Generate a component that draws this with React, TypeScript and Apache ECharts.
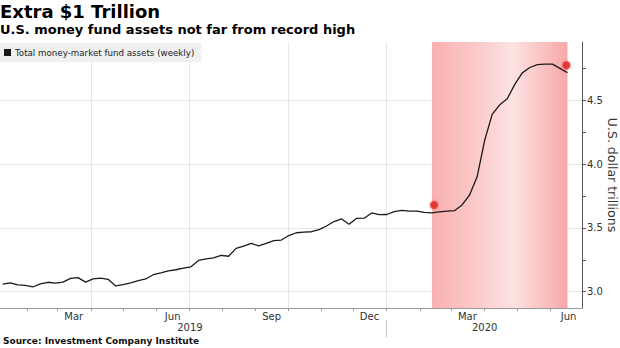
import React, { useEffect, useRef } from 'react';
import * as echarts from 'echarts';

// Weekly dates (ICI, Wednesdays)
const dates: string[] = [
  '2019-01-09', '2019-01-16', '2019-01-23', '2019-01-30',
  '2019-02-06', '2019-02-13', '2019-02-20', '2019-02-27',
  '2019-03-06', '2019-03-13', '2019-03-20', '2019-03-27',
  '2019-04-03', '2019-04-10', '2019-04-17', '2019-04-24',
  '2019-05-01', '2019-05-08', '2019-05-15', '2019-05-22', '2019-05-29',
  '2019-06-05', '2019-06-12', '2019-06-19', '2019-06-26',
  '2019-07-03', '2019-07-10', '2019-07-17', '2019-07-24', '2019-07-31',
  '2019-08-07', '2019-08-14', '2019-08-21', '2019-08-28',
  '2019-09-04', '2019-09-11', '2019-09-18', '2019-09-25',
  '2019-10-02', '2019-10-09', '2019-10-16', '2019-10-23', '2019-10-30',
  '2019-11-06', '2019-11-13', '2019-11-20', '2019-11-27',
  '2019-12-04', '2019-12-11', '2019-12-18', '2019-12-25',
  '2020-01-01', '2020-01-08', '2020-01-15', '2020-01-22', '2020-01-29',
  '2020-02-05', '2020-02-12', '2020-02-19', '2020-02-26',
  '2020-03-04', '2020-03-11', '2020-03-18', '2020-03-25',
  '2020-04-01', '2020-04-08', '2020-04-15', '2020-04-22', '2020-04-29',
  '2020-05-06', '2020-05-13', '2020-05-20', '2020-05-27',
  '2020-06-03', '2020-06-10', '2020-06-17',
];

// Total money-market fund assets, US$ trillions
const assets: number[] = [
  3.06, 3.07, 3.054, 3.05,
  3.037, 3.062, 3.074, 3.068,
  3.075, 3.105, 3.11, 3.075,
  3.1, 3.106, 3.097, 3.045,
  3.055, 3.07, 3.086, 3.1, 3.133,
  3.148, 3.164, 3.172, 3.185,
  3.195, 3.245, 3.257, 3.265, 3.285,
  3.278, 3.34, 3.358, 3.378,
  3.36, 3.378, 3.4, 3.405,
  3.44, 3.462, 3.467, 3.47, 3.486,
  3.515, 3.55, 3.57, 3.528,
  3.575, 3.576, 3.617, 3.604,
  3.605, 3.628, 3.638, 3.632, 3.632,
  3.622, 3.618, 3.626, 3.632,
  3.635, 3.68, 3.758, 3.9,
  4.185, 4.39, 4.465, 4.512, 4.625,
  4.715, 4.757, 4.78, 4.784,
  4.784, 4.75, 4.716,
];

const seriesName = 'Total money-market fund assets (weekly)';

const axisStart = '2019-01-06T12:00:00Z';
const axisEnd = '2020-06-30T12:00:00Z';

const monthTickDates: string[] = [
  '2019-02-01', '2019-03-01', '2019-04-01', '2019-05-01', '2019-06-01', '2019-07-01',
  '2019-08-01', '2019-09-01', '2019-10-01', '2019-11-01', '2019-12-01', '2020-01-01',
  '2020-02-01', '2020-03-01', '2020-04-01', '2020-05-01', '2020-06-01',
];
const gridLineDates: string[] = ['2019-04-01', '2019-07-01', '2019-10-01', '2020-01-01', '2020-04-01'];
const monthLabelDates: string[] = ['2019-03-16', '2019-06-16', '2019-09-16', '2019-12-16', '2020-03-16', '2020-06-18'];
const monthLabels: string[] = ['Mar', 'Jun', 'Sep', 'Dec', 'Mar', 'Jun'];
const yearLabelDates: string[] = ['2019-07-02', '2020-04-01'];
const yearLabels: string[] = ['2019', '2020'];
const yearSeparatorDates: string[] = ['2020-01-01'];

const yMin = 2.8723;
const yMax = 4.957;
const yTickValues: number[] = [3, 3.25, 3.5, 3.75, 4, 4.25, 4.5, 4.75];
const yLabelValues: number[] = [3, 3.5, 4, 4.5];
const yLabels: string[] = ['3.0', '3.5', '4.0', '4.5'];

const shadeRange: string[] = ['2020-02-12', '2020-06-17'];
const markerDates: string[] = ['2020-02-14', '2020-06-16'];
const markerValues: number[] = [3.68, 4.775];

const ts = (s: string) => Date.parse(s.length === 10 ? s + 'T00:00:00Z' : s);

const FONT = 'DejaVu Sans';

export default function App() {
  const ref = useRef<HTMLDivElement>(null);

  useEffect(() => {
    if (!ref.current) return;
    const chart = echarts.init(ref.current, undefined, { renderer: 'svg' });

    const monthLabelTs = monthLabelDates.map(ts);
    const yearLabelTs = yearLabelDates.map(ts);

    const baseX = {
      type: 'value' as const,
      gridIndex: 0,
      position: 'bottom' as const,
      min: ts(axisStart),
      max: ts(axisEnd),
      axisLine: { show: false },
      axisTick: { show: false },
      axisLabel: { show: false },
      splitLine: { show: false },
    };

    const option: any = {
      animation: false,
      backgroundColor: '#ffffff',
      title: [
        {
          text: 'Extra $1 Trillion',
          left: 0,
          top: 2,
          padding: 0,
          textStyle: { fontFamily: FONT, fontWeight: 'bold', fontSize: 18, color: '#000' },
        },
        {
          text: 'U.S. money fund assets not far from record high',
          left: 0,
          top: 23,
          padding: 0,
          textStyle: { fontFamily: FONT, fontWeight: 'bold', fontSize: 13, color: '#000' },
        },
        {
          text: 'Source: Investment Company Institute',
          left: 3,
          top: 336,
          padding: 0,
          textStyle: { fontFamily: FONT, fontWeight: 'bold', fontSize: 9, color: '#111' },
        },
      ],
      legend: {
        data: [seriesName],
        left: 0,
        top: 43,
        padding: [5, 7, 5, 4],
        backgroundColor: '#f0f0f0',
        icon: 'rect',
        itemWidth: 7,
        itemHeight: 7,
        itemGap: 5,
        selectedMode: false,
        textStyle: { fontFamily: FONT, fontSize: 8.7, color: '#222', padding: [0, 0, 0, -1] },
      },
      grid: {
        left: 0,
        right: 38,
        top: 42,
        bottom: 40,
        containLabel: false,
        outerBoundsMode: 'none',
      },
      xAxis: [
        {
          ...baseX,
          axisLine: { show: true, lineStyle: { color: '#9a9a9a', width: 1 } },
          axisTick: {
            show: true,
            customValues: monthTickDates.map(ts),
            length: 3,
            lineStyle: { color: '#9a9a9a' },
          },
        },
        {
          ...baseX,
          axisTick: { show: false, customValues: gridLineDates.map(ts) },
          splitLine: { show: true, lineStyle: { color: '#e6e6e6', width: 1 } },
        },
        {
          ...baseX,
          axisLabel: {
            show: true,
            customValues: monthLabelTs,
            margin: 3,
            fontFamily: FONT,
            fontSize: 10,
            color: '#333',
            formatter: (v: number) => {
              const i = monthLabelTs.findIndex((t) => Math.abs(t - v) < 1000);
              return i >= 0 ? monthLabels[i] : '';
            },
          },
        },
        {
          ...baseX,
          offset: 12,
          axisTick: {
            show: true,
            customValues: yearSeparatorDates.map(ts),
            length: 17,
            lineStyle: { color: '#c4c4c4' },
          },
          axisLabel: {
            show: true,
            customValues: yearLabelTs,
            margin: 2,
            fontFamily: FONT,
            fontSize: 10,
            color: '#333',
            formatter: (v: number) => {
              const i = yearLabelTs.findIndex((t) => Math.abs(t - v) < 1000);
              return i >= 0 ? yearLabels[i] : '';
            },
          },
        },
      ],
      yAxis: [
        {
          type: 'value',
          gridIndex: 0,
          position: 'right',
          min: yMin,
          max: yMax,
          axisLine: { show: true, lineStyle: { color: '#555', width: 1 } },
          axisTick: { show: true, customValues: yTickValues, length: 4, lineStyle: { color: '#555' } },
          axisLabel: {
            show: true,
            customValues: yLabelValues,
            margin: 5,
            fontFamily: FONT,
            fontSize: 10,
            color: '#333',
            formatter: (v: number) => {
              const i = yLabelValues.findIndex((t) => Math.abs(t - v) < 1e-6);
              return i >= 0 ? yLabels[i] : '';
            },
          },
          splitLine: { show: false },
          name: 'U.S. dollar trillions',
          nameLocation: 'middle',
          nameRotate: -90,
          nameGap: 24,
          nameMoveOverlap: false,
          nameTextStyle: { fontFamily: FONT, fontSize: 12.5, color: '#333' },
        },
        {
          type: 'value',
          gridIndex: 0,
          position: 'right',
          min: yMin,
          max: yMax,
          axisLine: { show: false },
          axisTick: { show: false, customValues: yLabelValues },
          axisLabel: { show: false },
          splitLine: { show: true, lineStyle: { color: '#e6e6e6', width: 1 } },
        },
      ],
      series: [
        {
          name: seriesName,
          type: 'line',
          xAxisIndex: 0,
          yAxisIndex: 0,
          data: dates.map((d, i) => [ts(d), assets[i]]),
          showSymbol: false,
          symbol: 'none',
          itemStyle: { color: '#1a1a1a' },
          lineStyle: { color: '#1a1a1a', width: 1.3 },
          z: 3,
          markArea: {
            silent: true,
            itemStyle: {
              opacity: 0.93,
              color: new echarts.graphic.LinearGradient(0, 0, 1, 0, [
                { offset: 0, color: '#f9aaaa' },
                { offset: 0.3, color: '#fbc3c3' },
                { offset: 0.6, color: '#fde0e0' },
                { offset: 1, color: '#f8a0a0' },
              ]),
            },
            data: [[{ xAxis: ts(shadeRange[0]) }, { xAxis: ts(shadeRange[1]) }]],
          },
        },
        {
          name: 'markers',
          type: 'scatter',
          xAxisIndex: 0,
          yAxisIndex: 0,
          symbol: 'circle',
          symbolSize: 8,
          z: 5,
          itemStyle: {
            color: '#e02a2a',
            shadowBlur: 3,
            shadowColor: 'rgba(230,40,40,0.7)',
          },
          data: markerDates.map((d, i) => [ts(d), markerValues[i]]),
        },
      ],
    };

    chart.setOption(option);
    return () => chart.dispose();
  }, []);

  return (
    <div
      ref={ref}
      style={{ position: 'absolute', left: 0, top: 0, width: 620, height: 348, background: '#fff' }}
    />
  );
}
